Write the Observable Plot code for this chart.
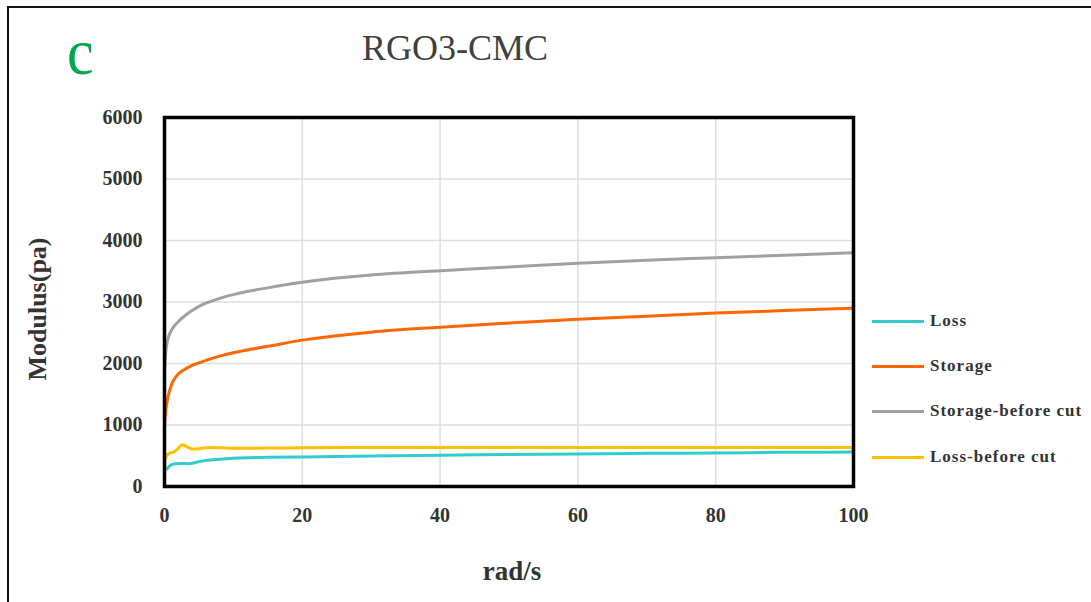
<!DOCTYPE html>
<html>
<head>
<meta charset="utf-8">
<script src="https://cdn.jsdelivr.net/npm/d3@7"></script>
<script src="https://cdn.jsdelivr.net/npm/@observablehq/plot@0.6"></script>
<style>
  html, body { margin: 0; padding: 0; background: #fff; }
  #wrap { position: relative; width: 1091px; height: 602px; overflow: hidden; font-family: "Liberation Serif", "DejaVu Serif", serif; }
  #wrap svg { position: absolute; left: 0; top: 0; }
  .abs { position: absolute; white-space: nowrap; }
</style>
</head>
<body>
<div id="wrap"></div>
<script>
// ---- data ----
const storageBeforeX = [0, 0.2, 0.5, 1, 2, 3, 4, 5, 6, 8, 10, 12, 15, 20, 25, 30, 40, 50, 60, 70, 80, 90, 100];
const storageBeforeY = [1900, 2200, 2400, 2540, 2680, 2780, 2860, 2930, 2980, 3060, 3120, 3170, 3230, 3320, 3390, 3440, 3510, 3570, 3630, 3680, 3720, 3760, 3800];

const storageX = [0, 0.2, 0.5, 1, 1.5, 2, 3, 4, 5, 6, 8, 10, 12, 15, 20, 25, 30, 40, 50, 60, 70, 80, 90, 100];
const storageY = [1000, 1250, 1450, 1650, 1760, 1830, 1910, 1970, 2010, 2050, 2120, 2175, 2220, 2280, 2380, 2450, 2510, 2590, 2660, 2720, 2770, 2820, 2860, 2900];

const lossBeforeX = [0, 0.3, 0.7, 1.2, 1.8, 2.6, 3.2, 4, 5, 6.5, 8, 10, 15, 20, 30, 40, 50, 60, 70, 80, 90, 100];
const lossBeforeY = [400, 500, 540, 555, 600, 680, 650, 610, 615, 635, 630, 620, 625, 630, 635, 635, 635, 635, 635, 635, 635, 635];

const lossX = [0, 0.3, 0.8, 1.5, 2.5, 3.5, 4.5, 6, 8, 10, 15, 20, 30, 40, 50, 60, 70, 80, 90, 100];
const lossY = [250, 280, 340, 370, 375, 370, 390, 425, 445, 460, 475, 480, 495, 510, 520, 530, 540, 545, 555, 560];

const seriesNames = ["Loss", "Storage", "Storage-before cut", "Loss-before cut"];
const seriesColors = ["#33CCCC", "#FF6600", "#A0A0A0", "#FFC000"];

const xTicks = [0, 20, 40, 60, 80, 100];
const yTicks = [0, 1000, 2000, 3000, 4000, 5000, 6000];

const titleText = "RGO3-CMC";
const panelLetter = "c";
const xLabel = "rad/s";
const yLabel = "Modulus(pa)";

// ---- build table ----
const rows = [];
function add(name, xs, ys) { xs.forEach((x, i) => rows.push({series: name, x, y: ys[i]})); }
add("Storage-before cut", storageBeforeX, storageBeforeY);
add("Storage", storageX, storageY);
add("Loss-before cut", lossBeforeX, lossBeforeY);
add("Loss", lossX, lossY);

const W = 1091, H = 602;
const chart = Plot.plot({
  width: W, height: H,
  marginLeft: 164, marginRight: 238, marginTop: 117, marginBottom: 116,
  style: { fontFamily: "'Liberation Serif', serif", fontSize: "20px", fontWeight: "bold", color: "#333", background: "transparent" },
  x: { domain: [0, 100], ticks: xTicks },
  y: { domain: [0, 6000], ticks: yTicks },
  color: { domain: seriesNames, range: seriesColors },
  marks: [
    Plot.gridX(xTicks.slice(1, -1), { stroke: "#dedede", strokeOpacity: 1, strokeWidth: 1.5 }),
    Plot.gridY(yTicks.slice(1, -1), { stroke: "#dedede", strokeOpacity: 1, strokeWidth: 1.5 }),
    Plot.line(rows, { x: "x", y: "y", z: "series", stroke: "series", strokeWidth: 3, curve: "monotone-x" }),
    Plot.frame({ stroke: "#000", strokeWidth: 3.5 }),
    Plot.axisX({ ticks: xTicks, tickSize: 0, tickPadding: 21, label: null, fill: "#333", tickFormat: d => String(d) }),
    Plot.axisY({ ticks: yTicks, tickSize: 0, tickPadding: 22, label: null, fill: "#333", tickFormat: d => String(d) })
  ]
});

const wrap = document.getElementById("wrap");
wrap.appendChild(chart);

function addDiv(html, css) {
  const d = document.createElement("div");
  d.className = "abs";
  d.innerHTML = html;
  Object.assign(d.style, css);
  wrap.appendChild(d);
  return d;
}

// outer frame lines (top and left)
addDiv("", { left: "7px", top: "6px", width: "1090px", height: "2px", background: "#111" });
addDiv("", { left: "7px", top: "6px", width: "2px", height: "600px", background: "#111" });

// panel letter & title
addDiv(panelLetter, { left: "67px", top: "22px", fontSize: "60px", color: "#00A651", fontFamily: "'Liberation Serif', serif", lineHeight: "1", transform: "scaleY(1.1)", transformOrigin: "0 50%" });
addDiv(titleText, { left: "455px", top: "30px", transform: "translateX(-50%)", fontSize: "36px", color: "#404040", lineHeight: "1" });

// axis titles
addDiv(xLabel, { left: "512px", top: "558px", transform: "translateX(-50%)", fontSize: "27px", fontWeight: "bold", color: "#333", lineHeight: "1" });
addDiv(yLabel, { left: "38px", top: "309px", transform: "translate(-50%,-50%) rotate(-90deg)", fontSize: "26px", fontWeight: "bold", color: "#333", lineHeight: "1" });

// legend
const legendY = [321, 366, 411, 457];
seriesNames.forEach((name, i) => {
  addDiv("", { left: "872px", top: (legendY[i] - 1.5) + "px", width: "52px", height: "3px", background: seriesColors[i] });
  addDiv(name, { left: "930px", top: (legendY[i] - 10) + "px", fontSize: "17px", fontWeight: "bold", color: "#333", letterSpacing: "1px", lineHeight: "19px" });
});
</script>
</body>
</html>
